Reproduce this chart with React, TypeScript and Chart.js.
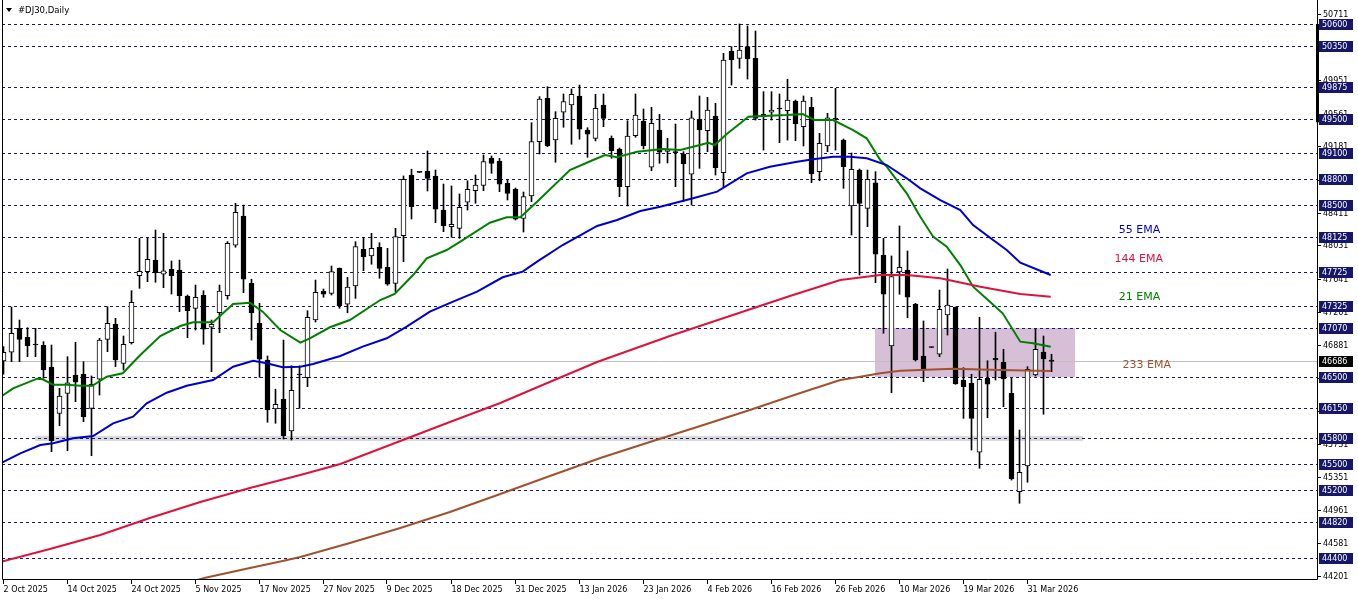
import React, { useEffect, useRef } from 'react';
import { Chart, registerables } from 'chart.js';

Chart.register(...registerables);

// ---- Daily candles (bar index 0 = 2 Oct 2025) ----
const opens = [
  46691, 46792, 47070, 46966, 46885, 46873, 46621, 46084, 46316, 46528,
  46537, 46142, 46479, 46942, 47120, 46664, 46903, 47680, 47727, 47862,
  47697, 47755, 47746, 47445, 47302, 47453, 47082, 47251, 47448, 48033,
  48373, 47592, 47128, 46702, 46134, 46250, 45879, 46534, 46497, 47166,
  47503, 47474, 47766, 47349, 47561, 47987, 47909, 48010, 47778, 47592,
  48144, 48848, 48882, 48895, 48837, 48442, 48249, 48230, 48532, 48666,
  48727, 49042, 49011, 48752, 48683, 48346, 48605, 49235, 49738, 49254,
  49576, 49660, 49765, 49370, 49274, 49660, 49274, 49150, 48713, 49304,
  49475, 48938, 49370, 49121, 49119, 49088, 48857, 49495, 49362, 49533,
  48875, 50287, 50202, 50337, 50202, 49525, 49576, 49620, 49594, 49707,
  49409, 49634, 48887, 49185, 49500, 49254, 48489, 48906, 48462, 48759,
  47920, 46865, 47723, 47746, 47352, 46749, 46850, 46769, 47224, 47314,
  46470, 46432, 45632, 46490, 46722, 46676, 46316, 45175, 45473, 46528,
  46795, 46702,
];
const highs = [
  46857, 47317, 47166, 47077, 47070, 46915, 46876, 46374, 46741, 46908,
  46683, 46517, 46954, 47321, 47186, 46981, 47506, 48114, 48114, 48210,
  48172, 47851, 47862, 47456, 47572, 47506, 47166, 47572, 48075, 48520,
  48500, 47639, 47360, 46749, 46363, 46934, 46636, 46636, 47274, 47630,
  47526, 47793, 47770, 47662, 48075, 48126, 48172, 48063, 47998, 48230,
  48837, 48915, 48885, 49127, 48906, 48744, 48721, 48628, 48782, 48848,
  49080, 49069, 49042, 48790, 48698, 48651, 49455, 49757, 49873, 49583,
  49788, 49846, 49892, 49397, 49785, 49788, 49301, 49162, 49478, 49788,
  49614, 49634, 49553, 49274, 49440, 49119, 49591, 49765, 49750, 49680,
  50260, 50337, 50600, 50577, 50519, 49815, 49815, 49788, 49959, 49718,
  49765, 49750, 49332, 49564, 49854, 49266, 49104, 48918, 48906, 48887,
  48114, 47909, 48257, 47967, 47360, 47155, 46853, 47514, 47758, 47317,
  46613, 46537, 47198, 46694, 47024, 46827, 46490, 45890, 46625, 47059,
  46981, 46769,
];
const lows = [
  46537, 46683, 46683, 46741, 46741, 46490, 45639, 45940, 45650, 46219,
  45987, 45592, 46296, 46799, 46625, 46586, 46888, 47534, 47611, 47604,
  47541, 47468, 47263, 46961, 47050, 46885, 46567, 47019, 47407, 48010,
  47483, 46934, 46502, 45980, 45968, 45786, 45774, 46142, 46393, 47143,
  47430, 47456, 47302, 47251, 47418, 47738, 47813, 47650, 47569, 47495,
  47843, 48338, 48877, 48663, 48295, 48191, 48126, 48114, 48442, 48520,
  48666, 48868, 48655, 48558, 48326, 48187, 48539, 49092, 49177, 48996,
  49402, 49205, 49263, 49054, 49243, 49409, 49042, 48597, 48489, 49286,
  49150, 48898, 48984, 48988, 48713, 48539, 48500, 48926, 49119, 48848,
  48713, 49892, 50086, 49962, 49486, 49138, 49486, 49223, 49254, 49246,
  49185, 48759, 48782, 49119, 49138, 48694, 48152, 47688, 48249, 47599,
  47012, 46323, 47465, 47193, 46691, 46451, 46845, 46741, 46992, 46421,
  46026, 45658, 45446, 46033, 46470, 46161, 45310, 45040, 45284, 46517,
  46073, 46567,
];
const closes = [
  46792, 47012, 46942, 46868, 46876, 46586, 45766, 46285, 46439, 46444,
  46045, 46421, 46934, 47128, 46702, 46885, 47372, 47731, 47871, 47715,
  47738, 47680, 47448, 47274, 47430, 47059, 47117, 47503, 48056, 48416,
  47639, 47251, 46711, 46122, 46189, 45824, 46351, 46528, 47198, 47488,
  47465, 47729, 47329, 47549, 48017, 47901, 47998, 47766, 47581, 48133,
  48799, 48481, 48878, 48810, 48451, 48260, 48277, 48474, 48683, 48732,
  49003, 48984, 48741, 48636, 48335, 48597, 49235, 49730, 49188, 49506,
  49699, 49785, 49379, 49321, 49622, 49506, 49130, 48713, 49301, 49544,
  49188, 49448, 49112, 49144, 49107, 48976, 49513, 49370, 49602, 48933,
  50182, 50182, 50298, 50194, 49506, 49553, 49602, 49614, 49718, 49440,
  49707, 48860, 49216, 49513, 49495, 48945, 48915, 48520, 48799, 47929,
  47465, 47669, 47778, 47430, 46702, 46586, 46847, 47291, 47340, 46424,
  46393, 46026, 46479, 46421, 46702, 46482, 45322, 45400, 46595, 46827,
  46714, 46686,
];

// ---- Moving averages (bar position, value) ----
const ema21Bars = [-0.2, 1.2, 4.2, 4.9, 6.2, 7.9, 9.6, 11.1, 12.9, 14.9, 17.1, 19.6, 22.1, 23.7, 26.2, 28.7, 30.8, 32.4, 34.6, 37.1, 38.3, 40.8, 43.3, 47.1, 48.9, 51.2, 52.9, 55.4, 57.4, 60.8, 62.9, 64.6, 66.7, 70.8, 73.7, 75.2, 76.7, 79.2, 82.4, 84.6, 86.2, 88.1, 88.9, 90.4, 92.1, 93.1, 94.9, 97.9, 99.9, 101.4, 103.7, 106.2, 107.9, 109.6, 110.4, 112.9, 114.6, 116.2, 117.9, 119.6, 121.2, 123.3, 124.9, 127.1, 128.7, 130.9];
const ema21Vals = [46285, 46374, 46486, 46479, 46416, 46416, 46404, 46404, 46509, 46548, 46760, 46981, 47097, 47140, 47140, 47352, 47367, 47263, 47050, 46903, 46954, 47082, 47166, 47398, 47468, 47688, 47882, 47978, 48094, 48295, 48358, 48358, 48539, 48906, 49022, 49080, 49054, 49119, 49150, 49138, 49177, 49223, 49196, 49324, 49448, 49525, 49533, 49544, 49556, 49486, 49486, 49370, 49274, 49022, 48945, 48636, 48365, 48133, 48017, 47804, 47553, 47379, 47244, 46915, 46896, 46857];

const ema55Bars = [-0.2, 2.1, 4.6, 6.2, 8.7, 11.2, 13.7, 16.2, 17.9, 20.4, 22.9, 26.2, 28.7, 31.2, 32.9, 34.9, 37.1, 38.7, 42.1, 44.9, 47.9, 50.4, 53.3, 56.2, 59.2, 62.4, 64.9, 66.7, 69.9, 74.2, 76.7, 79.6, 82.1, 86.2, 89.2, 92.9, 95.8, 99.2, 101.2, 103.7, 105.8, 107.9, 110.4, 112.9, 114.6, 117.1, 119.6, 121.2, 123.7, 125.4, 127.1, 130.9];
const ema55Vals = [45511, 45620, 45716, 45736, 45794, 45821, 45968, 46045, 46200, 46323, 46404, 46470, 46625, 46694, 46664, 46618, 46625, 46656, 46749, 46857, 46954, 47089, 47263, 47379, 47495, 47662, 47727, 47843, 48036, 48257, 48326, 48431, 48481, 48578, 48655, 48868, 48945, 49003, 49031, 49061, 49061, 49042, 48964, 48810, 48694, 48558, 48442, 48268, 48094, 47978, 47831, 47688];

const ema144Bars = [-0.2, 5.8, 12.1, 18.3, 24.6, 30.8, 37.1, 42.1, 49.6, 55.8, 62.1, 66.2, 74.2, 83.3, 90.8, 98.3, 104.6, 109.6, 112.9, 117.1, 122.1, 127.1, 130.9];
const ema144Vals = [44365, 44510, 44672, 44870, 45055, 45218, 45368, 45496, 45763, 45983, 46204, 46366, 46679, 46981, 47213, 47445, 47630, 47688, 47688, 47650, 47553, 47468, 47437];

const ema233Bars = [20.8, 25.1, 30.8, 34.9, 37.1, 43.3, 49.6, 55.8, 62.1, 68.3, 74.6, 80.8, 87.1, 93.3, 99.6, 104.6, 107.1, 109.6, 112.1, 118.7, 124.6, 130.9];
const ema233Vals = [44058, 44174, 44290, 44371, 44417, 44580, 44754, 44939, 45148, 45357, 45566, 45751, 45937, 46122, 46320, 46470, 46509, 46548, 46578, 46602, 46586, 46575];

// ---- Axis text ----
const dateLabels = ['2 Oct 2025', '14 Oct 2025', '24 Oct 2025', '5 Nov 2025', '17 Nov 2025', '27 Nov 2025', '9 Dec 2025', '18 Dec 2025', '31 Dec 2025', '13 Jan 2026', '23 Jan 2026', '4 Feb 2026', '16 Feb 2026', '26 Feb 2026', '10 Mar 2026', '19 Mar 2026', '31 Mar 2026'];
const dateLabelBars = [0, 8, 16, 24, 32, 40, 48, 56, 64, 72, 80, 88, 96, 104, 112, 120, 128];
const priceTicks = [44201, 44581, 44961, 45351, 45731, 46111, 46491, 46881, 47261, 47641, 48031, 48411, 48791, 49181, 49561, 49951, 50331, 50711];
const levelPrices = [50600, 50350, 49875, 49500, 49100, 48800, 48500, 48125, 47725, 47325, 47070, 46500, 46150, 45800, 45500, 45200, 44820, 44400];
const currentPrice = 46686;

// ---- Zones and labels ----
const boxBars = [108.9, 133.9];
const boxPrices = [46500, 47070];
const bandBars = [3.9, 134.9];
const bandPrices = [45760, 45825];
const rangeMarkPrices = [49460, 50600];
const emaLabelTexts = ['55 EMA', '144 EMA', '21 EMA', '233 EMA'];
const emaLabelBars = [142.0, 141.9, 142.0, 142.9];
const emaLabelPrices = [48210, 47874, 47437, 46644];
const emaColors = ['#0000cd', '#dc143c', '#008000', '#a0522d'];

const X_MIN = -0.1875;
const X_MAX = 164.1875;
const Y_MIN = 44162;
const Y_MAX = 50866.8;

const FONT = '8px "DejaVu Sans", sans-serif';
const TITLE_FONT = '8.5px "DejaVu Sans", sans-serif';
const NAVY = '#16166a';

const overlay = {
  id: 'overlay',
  beforeDatasetsDraw(chart: any) {
    const { ctx, chartArea: a, scales } = chart;
    const x = scales.x;
    const y = scales.y;
    ctx.save();
    // purple box
    ctx.fillStyle = '#d8bfd8';
    const bx1 = Math.round(x.getPixelForValue(boxBars[0]));
    const bx2 = Math.round(x.getPixelForValue(boxBars[1]));
    const by1 = Math.round(y.getPixelForValue(boxPrices[1]));
    const by2 = Math.round(y.getPixelForValue(boxPrices[0]));
    ctx.fillRect(bx1, by1, bx2 - bx1, by2 - by1);
    // grey band
    ctx.fillStyle = '#d9d9d9';
    const gx1 = Math.round(x.getPixelForValue(bandBars[0]));
    const gx2 = Math.round(x.getPixelForValue(bandBars[1]));
    const gy1 = Math.round(y.getPixelForValue(bandPrices[1]));
    const gy2 = Math.round(y.getPixelForValue(bandPrices[0]));
    ctx.fillRect(gx1, gy1, gx2 - gx1, gy2 - gy1);
    // current price line
    ctx.strokeStyle = '#c0c0c0';
    ctx.lineWidth = 1;
    const cy = Math.round(y.getPixelForValue(currentPrice)) + 0.5;
    ctx.beginPath();
    ctx.moveTo(a.left, cy);
    ctx.lineTo(a.right, cy);
    ctx.stroke();
    // dashed levels
    ctx.strokeStyle = NAVY;
    ctx.setLineDash([3, 3]);
    levelPrices.forEach((p) => {
      const py = Math.round(y.getPixelForValue(p)) + 0.5;
      ctx.beginPath();
      ctx.moveTo(a.left, py);
      ctx.lineTo(a.right, py);
      ctx.stroke();
    });
    ctx.setLineDash([]);
    ctx.restore();
  },
  afterDraw(chart: any) {
    const { ctx, chartArea: a, scales } = chart;
    const x = scales.x;
    const y = scales.y;
    ctx.save();
    // frame
    ctx.strokeStyle = '#000';
    ctx.lineWidth = 1;
    ctx.beginPath();
    ctx.moveTo(a.left + 0.5, 0);
    ctx.lineTo(a.left + 0.5, a.bottom + 0.5);
    ctx.lineTo(a.right + 0.5, a.bottom + 0.5);
    ctx.lineTo(a.right + 0.5, 0);
    ctx.stroke();
    // range mark on right edge
    ctx.fillStyle = '#000';
    const r1 = y.getPixelForValue(rangeMarkPrices[1]);
    const r2 = y.getPixelForValue(rangeMarkPrices[0]);
    ctx.fillRect(a.right - 1, r1, 3, r2 - r1);

    ctx.font = FONT;
    ctx.textBaseline = 'middle';
    ctx.textAlign = 'left';
    // price ticks
    priceTicks.forEach((p) => {
      const py = Math.round(y.getPixelForValue(p)) + 0.5;
      ctx.strokeStyle = '#000';
      ctx.beginPath();
      ctx.moveTo(a.right, py);
      ctx.lineTo(a.right + 4, py);
      ctx.stroke();
      ctx.fillStyle = '#000';
      ctx.fillText(String(p), a.right + 6, py);
    });
    // level boxes
    levelPrices.forEach((p) => {
      const py = Math.round(y.getPixelForValue(p));
      ctx.fillStyle = NAVY;
      ctx.fillRect(a.right + 2, py - 5, 34, 11);
      ctx.fillStyle = '#fff';
      ctx.fillText(String(p), a.right + 5, py + 0.5);
    });
    // current price box
    {
      const py = Math.round(y.getPixelForValue(currentPrice));
      ctx.fillStyle = '#000';
      ctx.fillRect(a.right + 2, py - 5, 34, 11);
      ctx.fillStyle = '#fff';
      ctx.fillText(String(currentPrice), a.right + 5, py + 0.5);
    }
    // date labels
    dateLabels.forEach((t, i) => {
      const px = Math.round(x.getPixelForValue(dateLabelBars[i])) - 0.5;
      ctx.strokeStyle = '#000';
      ctx.beginPath();
      ctx.moveTo(px, a.bottom);
      ctx.lineTo(px, a.bottom + 5);
      ctx.stroke();
      ctx.fillStyle = '#000';
      ctx.fillText(t, px, a.bottom + 11);
    });
    // title
    ctx.fillStyle = '#000';
    ctx.beginPath();
    ctx.moveTo(6, 8);
    ctx.lineTo(12, 8);
    ctx.lineTo(9, 12);
    ctx.closePath();
    ctx.fill();
    ctx.font = TITLE_FONT;
    ctx.fillText('#DJ30,Daily', 18, 10.5);
    // EMA labels
    ctx.font = '11px "DejaVu Sans", sans-serif';
    ctx.textAlign = 'center';
    emaLabelTexts.forEach((t, i) => {
      ctx.fillStyle = emaColors[i];
      ctx.fillText(t, x.getPixelForValue(emaLabelBars[i]), y.getPixelForValue(emaLabelPrices[i]));
    });
    ctx.restore();
  },
};

function toPoints(bars: number[], vals: number[]) {
  return bars.map((b, i) => ({ x: b, y: vals[i] }));
}

export default function App() {
  const ref = useRef<HTMLCanvasElement | null>(null);
  useEffect(() => {
    document.body.style.margin = '0';
    document.body.style.background = '#fff';
    const canvas = ref.current;
    if (!canvas) return;
    const idx = opens.map((_, i) => i);
    const lineDs = (label: string, bars: number[], vals: number[], color: string) => ({
      type: 'line' as const,
      label,
      data: toPoints(bars, vals),
      borderColor: color,
      backgroundColor: color,
      borderWidth: 2,
      pointRadius: 0,
      tension: 0,
      fill: false,
      order: 0,
    });
    const chart = new Chart(canvas, {
      type: 'bar',
      data: {
        datasets: [
          lineDs('EMA 233', ema233Bars, ema233Vals, '#a0522d'),
          lineDs('EMA 144', ema144Bars, ema144Vals, '#dc143c'),
          lineDs('EMA 55', ema55Bars, ema55Vals, '#0000cd'),
          lineDs('EMA 21', ema21Bars, ema21Vals, '#008000'),
          {
            type: 'bar' as const,
            label: 'bodies',
            data: idx.map((i) => ({ x: i, y: [opens[i], closes[i]] })) as any,
            backgroundColor: idx.map((i) => (closes[i] >= opens[i] ? '#ffffff' : '#000000')),
            borderColor: '#000',
            borderWidth: 1,
            borderSkipped: false,
            barThickness: 5,
            minBarLength: 1,
            grouped: false,
            order: 1,
          },
          {
            type: 'bar' as const,
            label: 'wicks',
            data: idx.map((i) => ({ x: i, y: [lows[i], highs[i]] })) as any,
            backgroundColor: '#000',
            borderWidth: 0,
            barThickness: 1,
            grouped: false,
            order: 2,
          },
        ],
      },
      options: {
        responsive: false,
        animation: false,
        devicePixelRatio: 1,
        events: [],
        layout: { padding: { left: 2, top: 1, right: 41, bottom: 21 } },
        plugins: { legend: { display: false }, tooltip: { enabled: false } },
        scales: {
          x: { type: 'linear', min: X_MIN, max: X_MAX, offset: false, display: false },
          y: { type: 'linear', min: Y_MIN, max: Y_MAX, display: false },
        },
      },
      plugins: [overlay],
    } as any);
    return () => chart.destroy();
  }, []);
  return (
    <div style={{ width: 1358, height: 600, background: '#fff' }}>
      <canvas ref={ref} width={1358} height={600} style={{ display: 'block' }} />
    </div>
  );
}
